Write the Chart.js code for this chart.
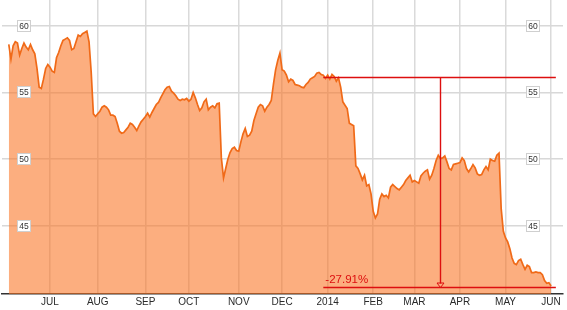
<!DOCTYPE html>
<html>
<head>
<meta charset="utf-8">
<script src="https://cdn.jsdelivr.net/npm/chart.js@4.4.1/dist/chart.umd.min.js"></script>
<style>
  html, body { margin: 0; padding: 0; background: #fff; }
  #wrap { width: 567px; height: 310px; position: relative; }
</style>
</head>
<body>
<div id="wrap"><canvas id="priceChart"></canvas></div>
<script>
// Daily closes, one per trading day (Jun 4 2013 .. Jun 2 2014)
const prices = [
    58.6, 57.5, 58.5, 58.8, 58.7, 57.8, 58.3, 58.7, 58.4, 58.2,
    58.6, 58.2, 57.9, 56.8, 55.4, 55.3, 56.0, 56.8, 57.1, 56.9,
    56.6, 56.5, 57.6, 58.0, 58.5, 58.9, 59.0, 59.1, 58.9, 58.2,
    58.3, 58.8, 59.3, 59.2, 59.4, 59.5, 59.6, 58.8, 56.5, 53.4,
    53.2, 53.4, 53.6, 53.9, 54.0, 53.9, 53.7, 53.3, 53.3, 53.2,
    52.7, 52.1, 51.95, 52.0, 52.2, 52.4, 52.7, 52.6, 52.4, 52.15,
    52.5, 52.8, 53.0, 53.2, 53.45, 53.15, 53.5, 53.8, 54.1, 54.25,
    54.6, 54.9, 55.2, 55.4, 55.45, 55.1, 54.95, 54.75, 54.5, 54.4,
    54.5, 54.45, 54.55, 54.35, 54.5, 55.0, 54.6, 54.1, 53.65, 53.85,
    54.3, 54.5, 53.7, 53.9, 54.0, 53.85, 54.15, 54.2, 50.1, 48.6,
    49.3, 50.0, 50.5, 50.8, 50.9, 50.65, 50.6, 51.3, 51.9, 52.3,
    51.7, 51.8, 52.1, 52.9, 53.4, 53.9, 54.1, 54.0, 53.6, 53.9,
    54.1, 54.4, 55.6, 56.7, 57.4, 57.95, 56.7, 56.6, 56.3, 55.8,
    56.0, 55.9, 55.6, 55.55, 55.5, 55.4, 55.35, 55.6, 55.75, 56.0,
    56.1, 56.2, 56.45, 56.5, 56.35, 56.3, 56.05, 56.3, 56.0, 56.35,
    56.2, 55.85, 56.1, 55.4, 54.3, 54.05, 53.8, 52.7, 52.6, 52.5,
    49.5, 49.3, 48.9, 48.45, 48.8, 48.0, 48.1, 47.4, 46.1, 45.6,
    45.9, 47.0, 47.4, 47.2, 47.3, 47.1, 47.9, 48.1, 47.95, 47.8,
    47.7, 47.9, 48.1, 48.4, 48.6, 48.8, 48.3, 48.4, 48.3, 48.2,
    48.75, 48.95, 49.1, 49.2, 48.5, 48.8, 49.3, 49.9, 50.3, 50.05,
    50.1, 50.25, 49.8, 49.3, 49.2, 49.6, 49.65, 49.7, 49.75, 50.1,
    49.9, 49.3, 49.05, 49.3, 49.6, 49.35, 48.9, 48.8, 48.85, 49.2,
    49.45, 49.2, 50.0, 49.9, 49.85, 50.3, 50.45, 46.3, 44.6, 44.1,
    43.8, 43.3, 42.6, 42.2, 42.1, 42.4, 42.5, 42.1, 41.75, 42.05,
    41.95, 41.5, 41.5, 41.55, 41.5, 41.5, 41.35, 40.9, 40.7, 40.75,
    40.5
];

// Month ticks (index of first trading day of each month)
const monthLabels = ['JUL', 'AUG', 'SEP', 'OCT', 'NOV', 'DEC', '2014', 'FEB', 'MAR', 'APR', 'MAY', 'JUN'];
const monthStartIdx = [19, 41, 63, 83, 106, 126, 147, 168, 187, 208, 229, 250];
const yTickValues = [45, 50, 55, 60];

// Change annotation
const changeFromIdx = 145;
const changeToIdx = 252.2;
const changeMarkIdx = 199;
const changeFromValue = 56.19;
const changeToValue = 40.4;
const changeLabel = '-27.91%';

const points = prices.map((v, i) => ({ x: i, y: v }));

// Boxed y labels on both sides + the red change measure
const overlayPlugin = {
    id: 'overlay',
    afterDatasetsDraw(chart) {
        const ctx = chart.ctx;
        const area = chart.chartArea;
        const xs = chart.scales.x;
        const ys = chart.scales.y;

        // red change measure
        const x0 = xs.getPixelForValue(changeFromIdx);
        const x1 = xs.getPixelForValue(changeToIdx);
        const xm = Math.round(xs.getPixelForValue(changeMarkIdx)) + 0.5;
        const yTop = Math.round(ys.getPixelForValue(changeFromValue)) + 0.5;
        const yBot = Math.round(ys.getPixelForValue(changeToValue)) + 0.5;
        ctx.save();
        ctx.strokeStyle = '#dd0f0f';
        ctx.lineWidth = 1.4;
        ctx.beginPath();
        ctx.moveTo(x0, yTop); ctx.lineTo(x1, yTop);
        ctx.moveTo(x0, yBot); ctx.lineTo(x1, yBot);
        ctx.moveTo(xm, yTop); ctx.lineTo(xm, yBot - 4);
        ctx.stroke();
        ctx.lineWidth = 1;
        ctx.beginPath();
        ctx.moveTo(xm - 3.5, yBot - 4.5);
        ctx.lineTo(xm + 3.5, yBot - 4.5);
        ctx.lineTo(xm, yBot);
        ctx.closePath();
        ctx.stroke();
        ctx.fillStyle = '#dd0f0f';
        ctx.font = '11.5px "Liberation Sans", Arial, sans-serif';
        ctx.textAlign = 'left';
        ctx.textBaseline = 'alphabetic';
        ctx.fillText(changeLabel, x0 + 2, yBot - 5);
        ctx.restore();

        // boxed tick labels
        ctx.save();
        ctx.font = '8.5px "Liberation Sans", Arial, sans-serif';
        ctx.textAlign = 'center';
        ctx.textBaseline = 'middle';
        const centers = [area.left + 21, area.right - 31];
        yTickValues.forEach(v => {
            const y = Math.round(ys.getPixelForValue(v));
            centers.forEach(cx => {
                const bx = Math.round(cx - 6.5) + 0.5;
                ctx.fillStyle = '#ffffff';
                ctx.fillRect(bx, y - 5.5, 13, 11);
                ctx.strokeStyle = '#cfcfcf';
                ctx.lineWidth = 1;
                ctx.strokeRect(bx, y - 5.5, 13, 11);
                ctx.fillStyle = '#333333';
                ctx.fillText(String(v), bx + 6.5, y + 0.5);
            });
        });
        ctx.restore();
    }
};

new Chart(document.getElementById('priceChart'), {
    type: 'line',
    data: {
        datasets: [{
            data: points,
            borderColor: '#f06a18',
            borderWidth: 1.7,
            backgroundColor: 'rgba(249, 115, 35, 0.58)',
            fill: 'start',
            pointRadius: 0,
            tension: 0
        }]
    },
    options: {
        responsive: true,
        maintainAspectRatio: false,
        animation: false,
        layout: { padding: { left: 2, right: 4, top: 0, bottom: 0 } },
        plugins: {
            legend: { display: false },
            tooltip: { enabled: false }
        },
        scales: {
            x: {
                type: 'linear',
                min: -3.13,
                max: 255.5,
                afterBuildTicks: scale => {
                    scale.ticks = monthStartIdx.map(v => ({ value: v }));
                },
                ticks: {
                    autoSkip: false,
                    maxRotation: 0,
                    padding: 2,
                    color: '#2a2a2a',
                    font: { family: '"Liberation Sans", Arial, sans-serif', size: 10 },
                    callback: value => monthLabels[monthStartIdx.indexOf(value)]
                },
                grid: {
                    color: '#dadada',
                    lineWidth: 1.5,
                    drawTicks: false
                },
                border: { display: true, color: '#333333', width: 1.5 }
            },
            y: {
                min: 39.9,
                max: 61.93,
                afterBuildTicks: scale => {
                    scale.ticks = yTickValues.map(v => ({ value: v }));
                },
                ticks: { display: false },
                grid: {
                    color: '#d8d8d8',
                    lineWidth: 1.5,
                    drawTicks: false
                },
                border: { display: false }
            }
        }
    },
    plugins: [overlayPlugin]
});
</script>
</body>
</html>
